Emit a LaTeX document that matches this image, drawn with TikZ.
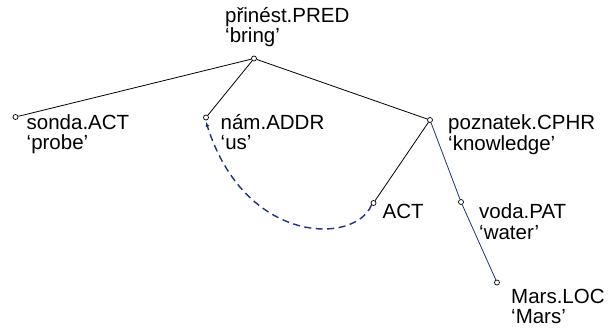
\documentclass[tikz,border=0pt]{standalone}
\usepackage{fontspec}
\setmainfont{Liberation Sans}
\usepackage{tikz}
\usetikzlibrary{shapes,arrows,arrows.meta}
\definecolor{blu}{RGB}{30,50,125}
\tikzstyle{punto} = [circle, draw, fill=white, inner sep=0pt,
    minimum size=5pt, line width=0.7pt]
\tikzstyle{etichetta} = [anchor=base west, inner sep=0pt, align=left,
    font=\fontsize{20.5}{20.5}\selectfont]
\tikzstyle{ramo} = [line width=0.8pt]
\tikzstyle{coref} = [blu, dashed, line width=1.4pt, dash pattern=on 7pt off 4.5pt]

\begin{document}
\begin{tikzpicture}[x=1pt, y=-1pt]
  \useasboundingbox (0,0) rectangle (608,331);
  \node [punto] (pred) at (254,58.5) {};
  \node [punto] (sonda) at (15.5,117) {};
  \node [punto] (nam) at (206,117.5) {};
  \node [punto] (poznatek) at (430,120) {};
  \node [punto] (act) at (373.5,203) {};
  \node [punto] (voda) at (461,202) {};
  \node [punto] (mars) at (497,282.5) {};

  \node [etichetta] (predlab) at (225,43) {přinést.PRED\\‘bring’};
  \node [etichetta] (sondalab) at (26.5,150) {sonda.ACT\\‘probe’};
  \node [etichetta] (namlab) at (220.5,150) {nám.ADDR\\‘us’};
  \node [etichetta] (poznateklab) at (448,150.5) {poznatek.CPHR\\‘knowledge’};
  \node [etichetta] (actlab) at (382.5,219) {ACT};
  \node [etichetta] (vodalab) at (479,239.5) {voda.PAT\\‘water’};
  \node [etichetta] (marslab) at (511,323.5) {Mars.LOC\\‘Mars’};

  \draw [ramo] (pred) -- (sonda);
  \draw [ramo] (pred) -- (nam);
  \draw [ramo] (pred) -- (poznatek);
  \draw [ramo] (poznatek) -- (act);
  \draw [ramo, blu] (poznatek) -- (voda);
  \draw [ramo, blu] (voda) -- (mars);
  \draw [coref, -{Latex[length=5pt,width=4pt]}] (act.south west) .. controls (355,245) and (245,245) .. ([yshift=-1.5pt]nam.south);
\end{tikzpicture}
\end{document}
